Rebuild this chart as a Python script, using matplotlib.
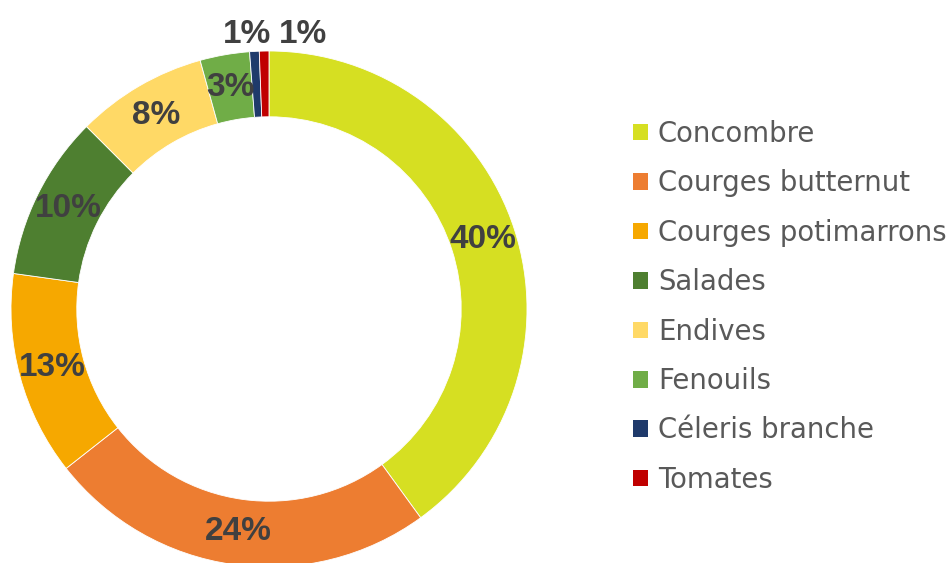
import matplotlib.pyplot as plt
from matplotlib.patches import Patch

labels = ["Concombre", "Courges butternut", "Courges potimarrons", "Salades",
          "Endives", "Fenouils", "Céleris branche", "Tomates"]
values = [40.0, 24.4, 12.8, 10.3, 8.2, 3.1, 0.6, 0.6]
colors = ["#D6DF22", "#ED7D31", "#F6A800", "#4E7F30",
          "#FFD966", "#70AD47", "#1F3A6B", "#C00000"]

fig = plt.figure(figsize=(9.48, 5.63), dpi=100)
W, H = 948, 563
cx, cy, r = 269, 309, 258
ax = fig.add_axes([(cx - r) / W, (H - cy - r) / H, 2 * r / W, 2 * r / H])

wedges, texts, pcts = ax.pie(
    values, colors=colors, startangle=90, counterclock=False,
    radius=1.0, autopct="%.0f%%", pctdistance=0.87,
    wedgeprops=dict(width=0.255, edgecolor="white", linewidth=0.6),
    textprops=dict(fontsize=24, fontweight="bold", color="#404040",
                   family="Liberation Sans"))
ax.set_xlim(-1, 1)
ax.set_ylim(-1, 1)
ax.axis("off")

# the two small slices get their labels above the ring
for t, dx in zip(pcts[-2:], [-0.035, 0.15]):
    x, y = t.get_position()
    t.set_position((x + dx, 1.065))

handles = [Patch(facecolor=c, edgecolor="none") for c in colors]
fig.legend(handles, labels, loc="center left", bbox_to_anchor=(0.656, 0.455),
           frameon=False, labelcolor="#595959", borderaxespad=0,
           handlelength=0.55, handleheight=0.55, handletextpad=0.36,
           labelspacing=0.78, prop=dict(family="DejaVu Sans", size=19.8))

fig.savefig("out.png", dpi=100)
